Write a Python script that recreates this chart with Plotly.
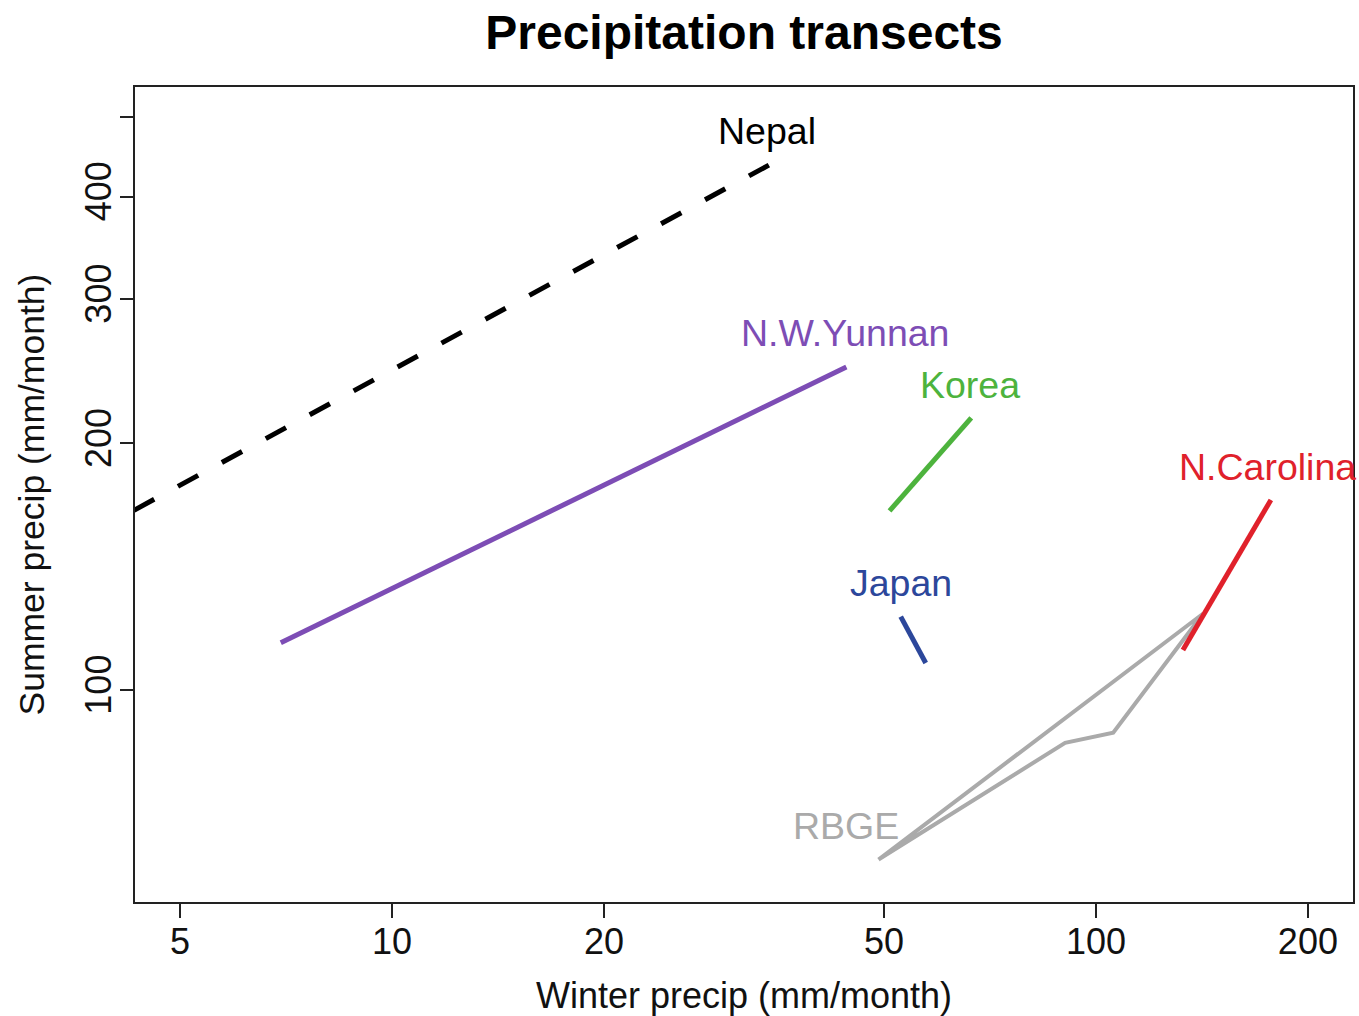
import math
import plotly.graph_objects as go

# ---- data (mm/month) ----
nepal_winter = [4.3, 34.3]
nepal_summer = [165.7, 437.0]

yunnan_winter = [6.95, 44.2]
yunnan_summer = [114.2, 247.9]

korea_winter = [50.9, 66.5]
korea_summer = [165.4, 214.8]

japan_winter = [52.8, 57.3]
japan_summer = [122.9, 107.9]

ncarolina_winter = [132.9, 177.2]
ncarolina_summer = [111.9, 170.6]

rbge_winter = [49.1, 90.4, 105.8, 141.9, 49.1]
rbge_summer = [62.1, 86.2, 88.7, 123.9, 62.1]

# label positions
label_names = ["Nepal", "N.W.Yunnan", "Korea", "Japan", "N.Carolina", "RBGE"]
label_winter = [34.1, 44.0, 66.3, 52.9, 175.5, 44.2]
label_summer = [481.0, 272.8, 235.7, 135.2, 187.3, 68.3]
label_colors = ["#000000", "#7D4DB5", "#4DB33D", "#2C479B", "#E0212B", "#AAAAAA"]

x_ticks = [5, 10, 20, 50, 100, 200]
x_ticklabels = ["5", "10", "20", "50", "100", "200"]
y_ticks = [100, 200, 300, 400, 500]
y_ticklabels = ["100", "200", "300", "400", ""]

xlim = [5, 200]
ylim = [60, 500]

FONT = "Liberation Sans, Arial, Helvetica, sans-serif"

fig = go.Figure()

series = [
    (nepal_winter, nepal_summer, "#000000", 5, "23px,27px"),
    (yunnan_winter, yunnan_summer, "#7D4DB5", 5, "solid"),
    (korea_winter, korea_summer, "#4DB33D", 5, "solid"),
    (japan_winter, japan_summer, "#2C479B", 5, "solid"),
    (rbge_winter, rbge_summer, "#AAAAAA", 4, "solid"),
    (ncarolina_winter, ncarolina_summer, "#E0212B", 5, "solid"),
]
for xs, ys, col, w, dash in series:
    fig.add_trace(go.Scatter(x=xs, y=ys, mode="lines",
                             line=dict(color=col, width=w, dash=dash),
                             showlegend=False, hoverinfo="skip"))

# annotations on log axes take log10 coordinates
for name, xv, yv, col in zip(label_names, label_winter, label_summer, label_colors):
    fig.add_annotation(x=math.log10(xv), y=math.log10(yv), xref="x", yref="y",
                       text=name, showarrow=False,
                       xanchor="center", yanchor="middle",
                       font=dict(family=FONT, size=37.5, color=col))


def rng(lim):
    a, b = math.log10(lim[0]), math.log10(lim[1])
    d = 0.04 * (b - a)
    return [a - d, b + d]


fig.update_xaxes(type="log", range=rng(xlim), tickmode="array", tickvals=x_ticks,
                 ticktext=x_ticklabels, ticks="outside", ticklen=14, tickwidth=1.5,
                 tickcolor="#222", showline=True, linecolor="#222", linewidth=1.5,
                 mirror=True, showgrid=False, zeroline=False, ticklabelstandoff=-7,
                 tickfont=dict(family=FONT, size=36, color="#111"))
fig.update_yaxes(type="log", range=rng(ylim), tickmode="array", tickvals=y_ticks,
                 ticktext=y_ticklabels, ticks="outside", ticklen=13, tickwidth=1.5,
                 tickcolor="#222", showline=True, linecolor="#222", linewidth=1.5,
                 mirror=True, showgrid=False, zeroline=False, tickangle=-90,
                 ticklabelstandoff=-5,
                 tickfont=dict(family=FONT, size=36, color="#111"))

fig.add_annotation(text="Winter precip (mm/month)", xref="paper", yref="paper",
                   x=0.5, y=0, yshift=-93, showarrow=False, xanchor="center",
                   yanchor="middle", font=dict(family=FONT, size=36, color="#111"))
fig.add_annotation(text="Summer precip (mm/month)", xref="paper", yref="paper",
                   x=0, y=0.5, xshift=-104, showarrow=False, xanchor="center",
                   yanchor="middle", textangle=-90,
                   font=dict(family=FONT, size=35.5, color="#111"))

fig.update_layout(
    width=1359, height=1016,
    margin=dict(l=135, r=4, t=87, b=114),
    paper_bgcolor="white", plot_bgcolor="white",
    title=dict(text="Precipitation transects", x=0.5, xref="paper",
               y=1 - 32 / 1016, yref="container", xanchor="center", yanchor="middle",
               font=dict(family=FONT, size=48, color="#000", weight="bold")),
)

fig.write_html("out.html", config={"displayModeBar": False},
               post_script="document.body.style.margin='0px';"
                           "document.body.style.overflow='hidden';")
